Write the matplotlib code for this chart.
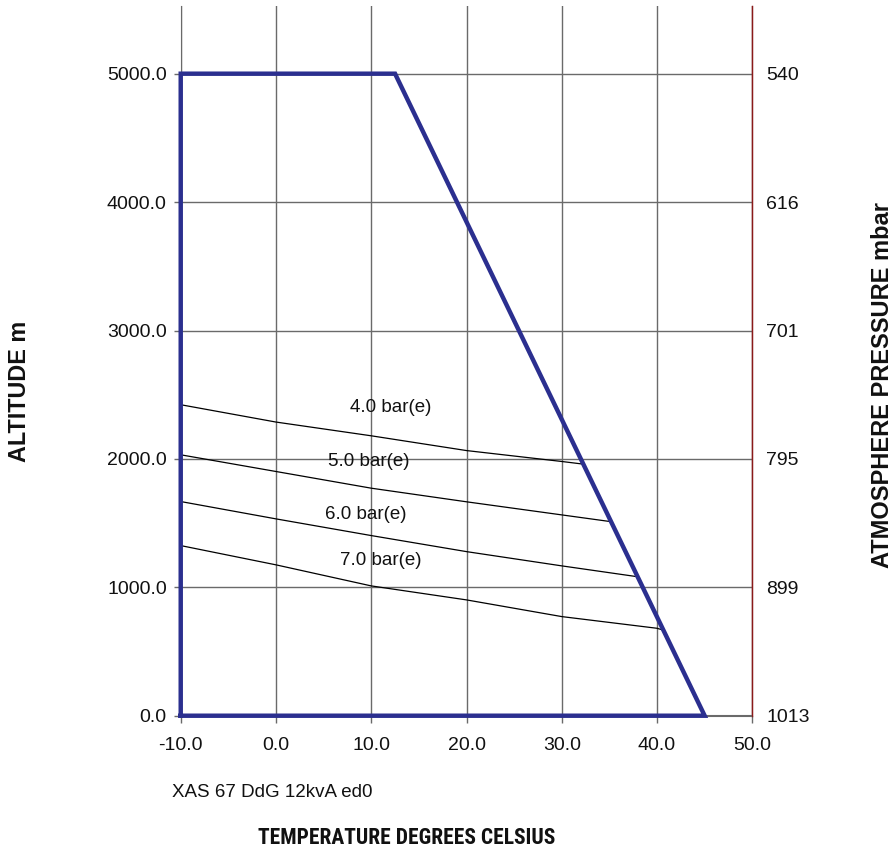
import matplotlib
matplotlib.use("Agg")
import matplotlib.pyplot as plt
from matplotlib.ticker import FormatStrFormatter
from matplotlib import font_manager

plt.rcParams['font.family'] = ['Liberation Sans', 'DejaVu Sans']

# ---- data ----
envelope_temp = [-10.0, -10.0, 12.5, 45.0, -10.0]
envelope_alt = [0.0, 5000.0, 5000.0, 0.0, 0.0]

curve_labels = ["4.0 bar(e)", "5.0 bar(e)", "6.0 bar(e)", "7.0 bar(e)"]
temp_4 = [-10, 0, 10, 20, 30, 32.3]
alt_4 = [2422, 2287, 2180, 2065, 1980, 1959]
temp_5 = [-10, 0, 10, 20, 30, 35.1]
alt_5 = [2032, 1902, 1772, 1666, 1564, 1512]
temp_6 = [-10, 0, 10, 20, 30, 37.9]
alt_6 = [1668, 1533, 1403, 1278, 1167, 1083]
temp_7 = [-10, 0, 10, 20, 30, 40, 40.6]
alt_7 = [1325, 1175, 1011, 902, 772, 681, 668]
label_temp = [12.0, 9.7, 9.4, 11.0]
label_alt = [2398, 1977, 1570, 1206]

x_ticks = [-10, 0, 10, 20, 30, 40, 50]
alt_ticks = [0, 1000, 2000, 3000, 4000, 5000]
pressure_labels = ["1013", "899", "795", "701", "616", "540"]

names = set(f.name for f in font_manager.fontManager.ttflist)
narrow = None
for cand in ['Liberation Sans Narrow', 'Roboto Condensed', 'Open Sans Condensed', 'DejaVu Sans Condensed']:
    if cand in names:
        narrow = cand
        break

# ---- figure ----
fig = plt.figure(figsize=(8.96, 8.55), dpi=100)
ax = fig.add_axes([0.2017, 0.1629, 0.6379, 0.8305])
ax.set_xlim(-10, 50)
ax.set_ylim(0, 5530)

grid_c = '#6a6a6a'
ax.set_xticks(x_ticks)
ax.set_yticks(alt_ticks)
ax.grid(True, color=grid_c, linewidth=1.0)
ax.set_axisbelow(True)
ax.spines['top'].set_visible(False)
ax.spines['left'].set_color(grid_c)
ax.spines['bottom'].set_color(grid_c)
ax.spines['bottom'].set_linewidth(1.5)
ax.spines['right'].set_color('#8B1A1A')
ax.spines['right'].set_linewidth(1.0)
ax.tick_params(axis='both', colors=grid_c, length=5, width=1, labelsize=14,
               labelcolor='#111111')
ax.tick_params(axis='x', pad=10)
ax.tick_params(axis='y', pad=5)
ax.xaxis.set_major_formatter(FormatStrFormatter('%.1f'))
ax.yaxis.set_major_formatter(FormatStrFormatter('%.1f'))

for tx, ay in [(temp_4, alt_4), (temp_5, alt_5), (temp_6, alt_6), (temp_7, alt_7)]:
    ax.plot(tx, ay, color='black', linewidth=0.9, zorder=3)

ax.plot(envelope_temp, envelope_alt, color='#2B2F8F', linewidth=3.2,
        solid_joinstyle='miter', zorder=4, clip_on=False)

for lab, lx, ly in zip(curve_labels, label_temp, label_alt):
    ax.text(lx, ly, lab, ha='center', va='center', fontsize=13.5, color='#111111', zorder=5)

ax2 = ax.twinx()
ax2.set_ylim(ax.get_ylim())
ax2.set_yticks(alt_ticks)
ax2.set_yticklabels(pressure_labels)
ax2.tick_params(axis='y', length=0, pad=10, labelsize=14, labelcolor='#111111')
for s in ['top', 'left', 'bottom']:
    ax2.spines[s].set_visible(False)
ax2.spines['right'].set_color('#8B1A1A')

fig.text(19 / 896, 1 - 391 / 855, 'ALTITUDE m', rotation=90, ha='center', va='center',
         fontsize=16.8, fontweight='bold', color='#111111')
fig.text(882 / 896, 1 - 385 / 855, 'ATMOSPHERE PRESSURE mbar', rotation=90, ha='center',
         va='center', fontsize=17, fontweight='bold', color='#111111')
fig.text(172 / 896, 1 - 792 / 855, 'XAS 67 DdG 12kvA ed0', ha='left', va='center',
         fontsize=13.5, color='#111111')
if narrow is not None and narrow != 'DejaVu Sans Condensed':
    fig.text(407 / 896, 1 - 838 / 855, 'TEMPERATURE DEGREES CELSIUS', ha='center', va='center',
             fontsize=15.5, fontweight='bold', family=[narrow, 'Liberation Sans'], color='#111111')
else:
    fig.text(407 / 896, 1 - 838 / 855, 'TEMPERATURE DEGREES CELSIUS', ha='center', va='center',
             fontsize=12.6, fontweight='bold', color='#111111')

fig.savefig('out.png', dpi=100)
